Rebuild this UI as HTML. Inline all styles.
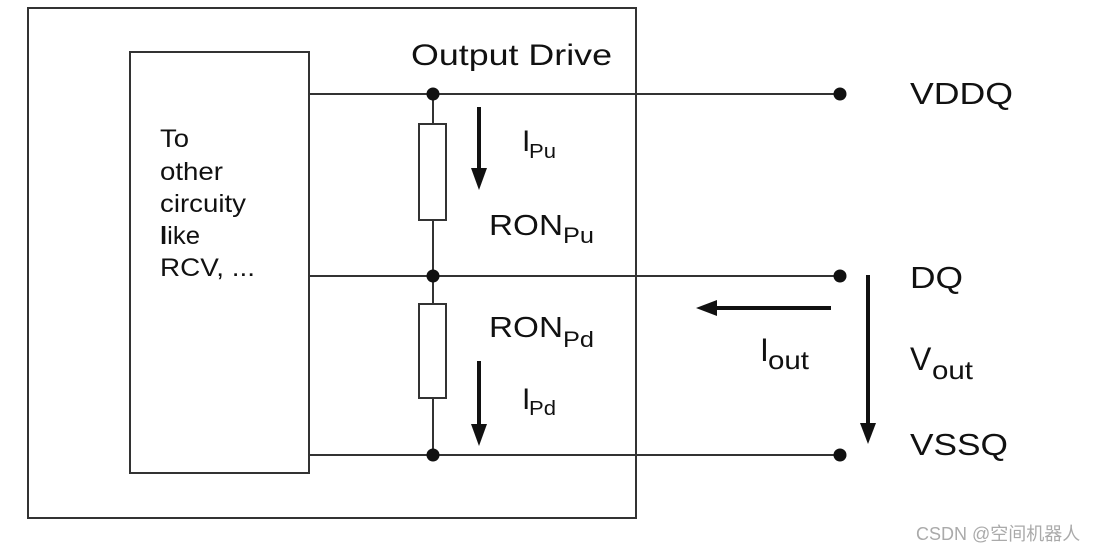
<!DOCTYPE html>
<html><head><meta charset="utf-8"><style>
html,body{margin:0;padding:0;background:#fff;width:1112px;height:554px;overflow:hidden}
svg{display:block}
text{font-family:"Liberation Sans",Arial,sans-serif;fill:#111}
</style></head><body>
<svg width="1112" height="554" viewBox="0 0 1112 554" xmlns="http://www.w3.org/2000/svg">
<g fill="none" stroke="#333" stroke-width="2">
<rect x="28" y="8" width="608" height="510"/>
<rect x="130" y="52" width="179" height="421"/>
<line x1="309" y1="94" x2="840" y2="94"/>
<line x1="309" y1="276" x2="840" y2="276"/>
<line x1="309" y1="455" x2="840" y2="455"/>
<line x1="433" y1="94" x2="433" y2="455"/>
</g>
<rect x="419" y="124" width="27" height="96" fill="#fff" stroke="#333" stroke-width="2"/>
<rect x="419" y="304" width="27" height="94" fill="#fff" stroke="#333" stroke-width="2"/>
<g fill="#111">
<circle cx="433" cy="94" r="6.5"/><circle cx="433" cy="276" r="6.5"/><circle cx="433" cy="455" r="6.5"/>
<circle cx="840" cy="94" r="6.5"/><circle cx="840" cy="276" r="6.5"/><circle cx="840" cy="455" r="6.5"/>
</g>
<g stroke="#111" stroke-width="4">
<line x1="479" y1="107" x2="479" y2="170"/>
<line x1="479" y1="361" x2="479" y2="426"/>
<line x1="831" y1="308" x2="715" y2="308"/>
<line x1="868" y1="275" x2="868" y2="425"/>
</g>
<g fill="#111">
<polygon points="471,168 487,168 479,190"/>
<polygon points="471,424 487,424 479,446"/>
<polygon points="717,300 717,316 696,308"/>
<polygon points="860,423 876,423 868,444"/>
</g>
<text x="411" y="65" font-size="30" textLength="201" lengthAdjust="spacingAndGlyphs">Output Drive</text>
<text x="910" y="104" font-size="31" textLength="103" lengthAdjust="spacingAndGlyphs">VDDQ</text>
<text x="910" y="288" font-size="31" textLength="53" lengthAdjust="spacingAndGlyphs">DQ</text>
<text x="910" y="455" font-size="31" textLength="98" lengthAdjust="spacingAndGlyphs">VSSQ</text>
<g font-size="25">
<text x="160" y="147" textLength="29" lengthAdjust="spacingAndGlyphs">To</text>
<text x="160" y="180" textLength="63" lengthAdjust="spacingAndGlyphs">other</text>
<text x="160" y="212" textLength="86" lengthAdjust="spacingAndGlyphs">circuity</text>
<text x="160" y="244" textLength="40" lengthAdjust="spacingAndGlyphs"><tspan font-weight="bold">l</tspan>ike</text>
<text x="160" y="276" textLength="95" lengthAdjust="spacingAndGlyphs">RCV, ...</text>
</g>
<text x="522" y="151" font-size="30">I</text><text x="529" y="158" font-size="20" textLength="27" lengthAdjust="spacingAndGlyphs">Pu</text>
<text x="522" y="409" font-size="30">I</text><text x="529" y="415" font-size="20" textLength="27" lengthAdjust="spacingAndGlyphs">Pd</text>
<text x="489" y="235" font-size="29" textLength="74" lengthAdjust="spacingAndGlyphs">RON</text><text x="563" y="243" font-size="22" textLength="31" lengthAdjust="spacingAndGlyphs">Pu</text>
<text x="489" y="337" font-size="29" textLength="74" lengthAdjust="spacingAndGlyphs">RON</text><text x="563" y="347" font-size="22" textLength="31" lengthAdjust="spacingAndGlyphs">Pd</text>
<text x="760" y="361" font-size="32">I</text><text x="768" y="369" font-size="26" textLength="41" lengthAdjust="spacingAndGlyphs">out</text>
<text x="910" y="370" font-size="32">V</text><text x="932" y="379" font-size="26" textLength="41" lengthAdjust="spacingAndGlyphs">out</text>
<text x="916" y="540" font-size="18" style="fill:#aaa;font-family:'Liberation Sans','Noto Sans CJK SC',sans-serif">CSDN @空间机器人</text>
</svg>
</body></html>
